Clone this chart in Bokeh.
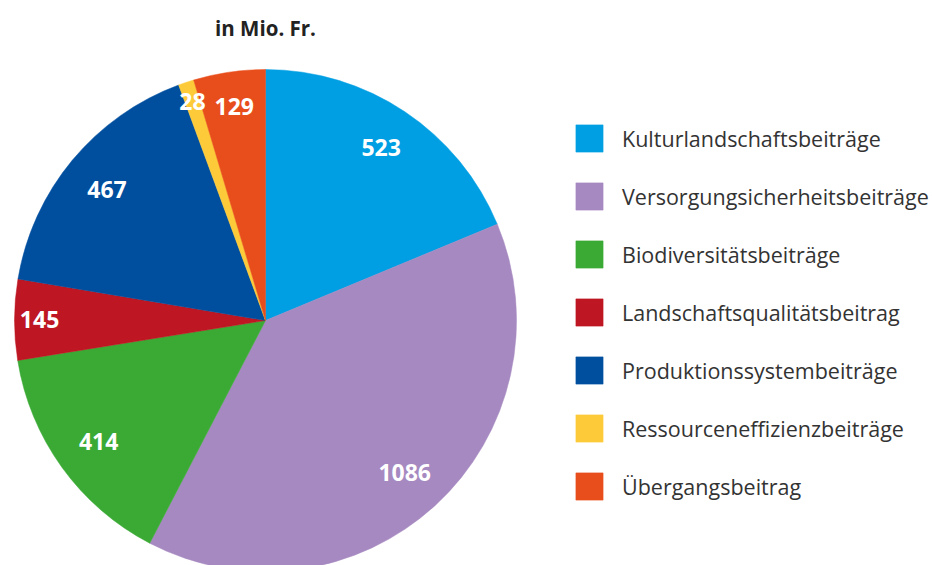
import math
from bokeh.plotting import figure
from bokeh.models import ColumnDataSource, Range1d, Legend, LegendItem, Label
from bokeh.core.properties import value
from bokeh.embed import file_html
from bokeh.resources import INLINE

categories = ["Kulturlandschaftsbeiträge", "Versorgungsicherheitsbeiträge", "Biodiversitätsbeiträge",
              "Landschaftsqualitätsbeitrag", "Produktionssystembeiträge", "Ressourceneffizienzbeiträge",
              "Übergangsbeitrag"]
values = [523, 1086, 414, 145, 467, 28, 129]
colors = ["#009FE3", "#A689C0", "#3AAA35", "#BE1622", "#004F9F", "#FDCB3A", "#E84E1B"]
label_radius = [0.83, 0.82, 0.82, 0.9, 0.82, 0.92, 0.86]
title_text = "in Mio. Fr."

W, H = 932, 565
CX, CY, R = 265, 245, 251

total = sum(values)
starts, ends, lx, ly = [], [], [], []
cum = 0.0
for v, lr in zip(values, label_radius):
    a0 = math.pi / 2 - 2 * math.pi * cum / total
    a1 = math.pi / 2 - 2 * math.pi * (cum + v) / total
    starts.append(a1)
    ends.append(a0)
    mid = (a0 + a1) / 2
    lx.append(CX + R * lr * math.cos(mid))
    ly.append(CY + R * lr * math.sin(mid))
    cum += v

src = ColumnDataSource(dict(cat=categories, val=values, col=colors, s=starts, e=ends,
                            lx=lx, ly=ly, txt=[str(v) for v in values]))

p = figure(width=W, height=H, output_backend="svg", toolbar_location=None,
           x_range=Range1d(0, W), y_range=Range1d(0, H), min_border=0)
p.axis.visible = False
p.grid.visible = False
p.outline_line_color = None
p.background_fill_color = "white"

items = []
for i in range(len(values)):
    r = p.wedge(x=CX, y=CY, radius=R, start_angle=starts[i], end_angle=ends[i],
                fill_color=colors[i], line_color=colors[i], line_width=0.5)
    items.append(LegendItem(label=categories[i], renderers=[r]))

p.text(x="lx", y="ly", text="txt", source=src, text_color="white",
       text_font=value("Open Sans"), text_font_style="bold", text_font_size="23px",
       text_align="center", text_baseline="middle")

legend = Legend(items=items, location=(572, 62), glyph_width=34, glyph_height=34,
                label_height=34, spacing=24, label_standoff=16, padding=0, margin=0,
                border_line_color=None, background_fill_alpha=0,
                label_text_font="Open Sans", label_text_font_size="21.5px",
                label_text_color="#333333")
p.add_layout(legend, "center")

p.add_layout(Label(x=265, y=538, x_units="screen", y_units="screen", text=title_text,
                   text_font="Open Sans", text_font_style="bold", text_font_size="20.5px",
                   text_color="#222222", text_align="center", text_baseline="middle"))

open("out.html", "w").write(file_html(p, INLINE))
